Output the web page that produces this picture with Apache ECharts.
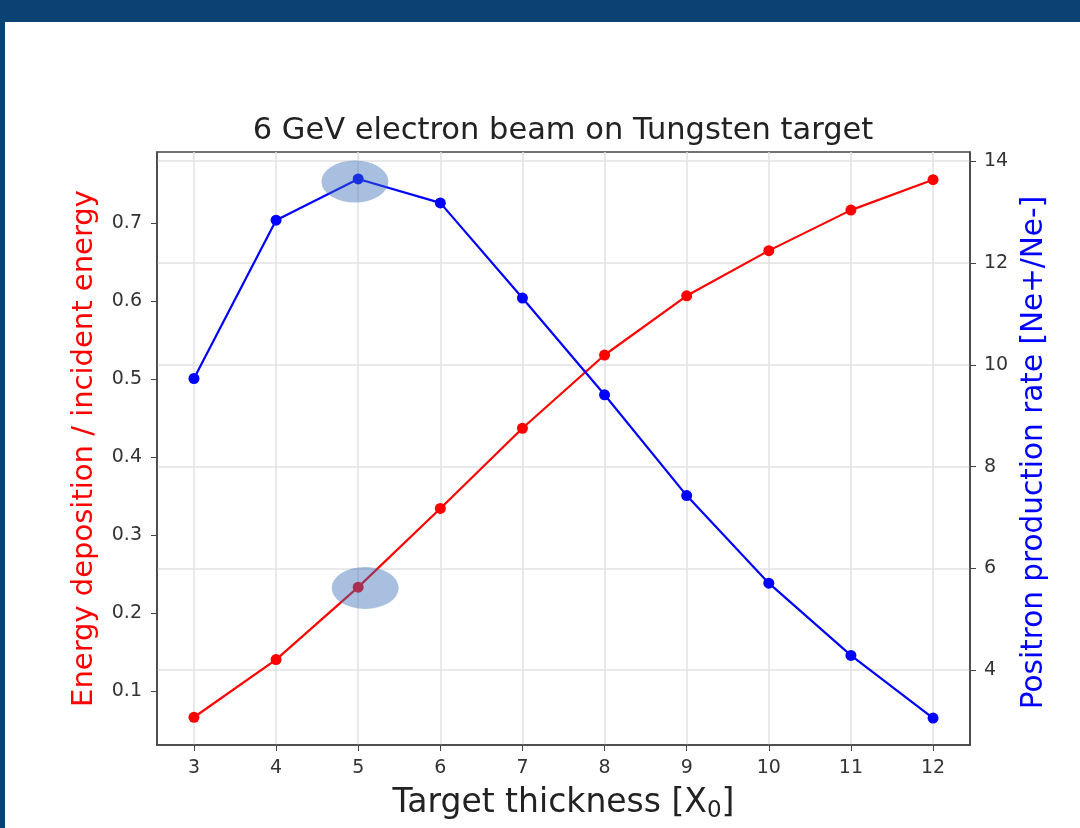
<!DOCTYPE html>
<html>
<head>
<meta charset="utf-8">
<script src="https://cdn.jsdelivr.net/npm/echarts@6/dist/echarts.min.js"></script>
<style>
html,body{margin:0;padding:0;background:#0b4274;}
#chart{width:1080px;height:828px;}
</style>
</head>
<body>
<div id="chart"></div>
<script>
// ---- data ----
var thickness = [3, 4, 5, 6, 7, 8, 9, 10, 11, 12];
var energyFraction = [0.066, 0.140, 0.233, 0.334, 0.437, 0.531, 0.607, 0.665, 0.717, 0.756];
var positronRate = [9.73, 12.84, 13.65, 13.18, 11.31, 9.41, 7.43, 5.71, 4.29, 3.06];
var xTicks = [3, 4, 5, 6, 7, 8, 9, 10, 11, 12];
var leftTicks = [0.1, 0.2, 0.3, 0.4, 0.5, 0.6, 0.7];
var rightTicks = [4, 6, 8, 10, 12, 14];
// highlighted spots (annotation ellipses)
var highlightRate = [[4.96, 13.6]];
var highlightEnergy = [[5.085, 0.232]];

var chart = echarts.init(document.getElementById('chart'));
var font = 'DejaVu Sans';

var gridLines = [];
xTicks.forEach(function (v) { gridLines.push({ xAxis: v }); });
rightTicks.forEach(function (v) { gridLines.push({ yAxis: v }); });

function tickAxisLabel(vals, margin, fmt) {
  return {
    customValues: vals,
    color: '#333',
    fontFamily: font,
    fontSize: 19,
    margin: margin,
    formatter: fmt
  };
}

var option = {
  backgroundColor: '#0b4274',
  animation: false,
  graphic: [{
    type: 'rect', z: -10, silent: true,
    shape: { x: 5, y: 22, width: 1075, height: 806 },
    style: { fill: '#ffffff' }
  }],
  title: {
    text: '6 GeV electron beam on Tungsten target',
    left: 558, top: 111, textAlign: 'center',
    textStyle: { fontFamily: font, fontSize: 30.5, fontWeight: 'normal', color: '#222' }
  },
  grid: {
    left: 157, right: 110, top: 152, bottom: 83,
    show: true, borderColor: '#444', borderWidth: 1.5, backgroundColor: 'transparent'
  },
  xAxis: {
    type: 'value', min: 2.55, max: 12.45,
    name: 'Target thickness [X{sub|0}]', nameLocation: 'middle', nameGap: 38,
    nameTextStyle: {
      fontFamily: font, fontSize: 33, color: '#222', lineHeight: 40,
      rich: { sub: { fontFamily: font, fontSize: 23, color: '#222', verticalAlign: 'bottom', lineHeight: 24 } }
    },
    axisLine: { show: true, lineStyle: { color: '#444', width: 1.5 } },
    axisTick: { show: true, customValues: xTicks, length: 6, lineStyle: { color: '#444' } },
    axisLabel: tickAxisLabel(xTicks, 14),
    splitLine: { show: false }
  },
  yAxis: [{
    type: 'value', min: 0.0304, max: 0.7916, position: 'left',
    name: 'Energy deposition / incident energy', nameLocation: 'middle', nameGap: 58,
    nameTextStyle: { fontFamily: font, fontSize: 29, color: '#ff0000' },
    axisLine: { show: true, lineStyle: { color: '#444', width: 1.5 } },
    axisTick: { show: true, customValues: leftTicks, length: 6, lineStyle: { color: '#444' } },
    axisLabel: tickAxisLabel(leftTicks, 15, function (v) { return v.toFixed(1); }),
    splitLine: { show: false }
  }, {
    type: 'value', min: 2.53, max: 14.18, position: 'right',
    name: 'Positron production rate [Ne+/Ne-]', nameLocation: 'middle', nameGap: 48,
    nameRotate: 90,
    nameTextStyle: { fontFamily: font, fontSize: 29.5, color: '#0000ff', padding: [0, 8, 0, 0] },
    axisLine: { show: true, lineStyle: { color: '#444', width: 1.5 } },
    axisTick: { show: true, customValues: rightTicks, length: 6, lineStyle: { color: '#444' } },
    axisLabel: tickAxisLabel(rightTicks, 14),
    splitLine: { show: false }
  }],
  series: [{
    type: 'line', xAxisIndex: 0, yAxisIndex: 1, data: [], silent: true, z: 0,
    markLine: {
      silent: true, symbol: 'none', animation: false, z: 0, zlevel: 0,
      label: { show: false },
      lineStyle: { color: '#e2e2e2', width: 1.5, type: 'solid' },
      emphasis: { disabled: true },
      data: gridLines
    }
  }, {
    type: 'line', yAxisIndex: 0, z: 3,
    data: thickness.map(function (x, i) { return [x, energyFraction[i]]; }),
    symbol: 'circle', symbolSize: 11, showSymbol: true,
    lineStyle: { color: '#ff0000', width: 2.2 },
    itemStyle: { color: '#ff0000' }
  }, {
    type: 'line', yAxisIndex: 1, z: 3,
    data: thickness.map(function (x, i) { return [x, positronRate[i]]; }),
    symbol: 'circle', symbolSize: 11, showSymbol: true,
    lineStyle: { color: '#0000ff', width: 2.2 },
    itemStyle: { color: '#0000ff' }
  }, {
    type: 'scatter', yAxisIndex: 1, z: 5, silent: true,
    data: highlightRate, symbol: 'circle', symbolSize: [67, 42],
    itemStyle: { color: 'rgba(60,110,185,0.55)' }
  }, {
    type: 'scatter', yAxisIndex: 0, z: 5, silent: true,
    data: highlightEnergy, symbol: 'circle', symbolSize: [67, 42],
    itemStyle: { color: 'rgba(60,110,185,0.55)' }
  }]
};
chart.setOption(option);
</script>
</body>
</html>
